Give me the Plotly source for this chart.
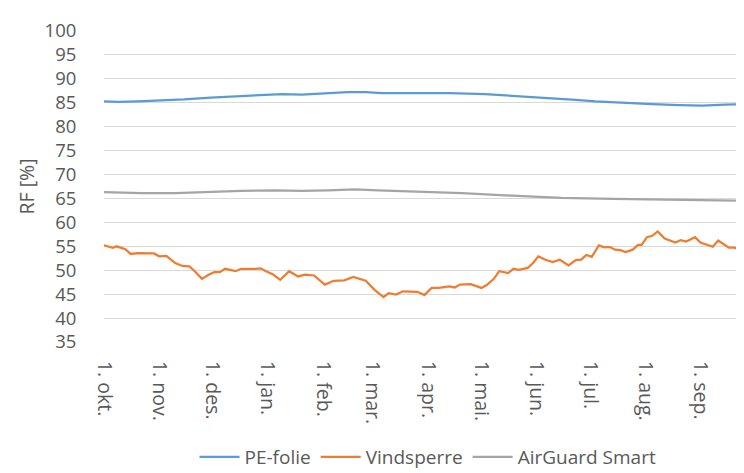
import plotly.graph_objects as go

# ---- data ----
pe_dates = ["2016-10-01","2016-10-09","2016-10-20","2016-11-04","2016-11-15","2016-11-30",
            "2016-12-15","2016-12-27","2017-01-09","2017-01-20","2017-02-02","2017-02-15",
            "2017-02-25","2017-03-06","2017-03-16","2017-04-01","2017-04-13","2017-05-03",
            "2017-05-22","2017-06-10","2017-06-23","2017-07-04","2017-07-17","2017-08-05",
            "2017-08-20","2017-09-02","2017-09-15","2017-09-30"]
pe_values = [85.3,85.2,85.3,85.5,85.7,86.1,86.4,86.6,86.8,86.7,87.0,87.2,87.2,87.0,87.0,87.0,
             87.0,86.8,86.4,86.0,85.6,85.3,85.0,84.7,84.5,84.4,84.6,84.7]

vind_dates = ["2016-10-01","2016-10-06","2016-10-08","2016-10-13","2016-10-16","2016-10-20",
              "2016-10-29","2016-11-01","2016-11-05","2016-11-10","2016-11-14","2016-11-18",
              "2016-11-21","2016-11-25","2016-11-29","2016-12-02","2016-12-05","2016-12-08",
              "2016-12-14","2016-12-17","2016-12-25","2016-12-28","2016-12-31","2017-01-04",
              "2017-01-08","2017-01-13","2017-01-18","2017-01-22","2017-01-27","2017-01-31",
              "2017-02-02","2017-02-07","2017-02-13","2017-02-18","2017-02-21","2017-02-25",
              "2017-03-02","2017-03-07","2017-03-10","2017-03-14","2017-03-18","2017-03-23",
              "2017-03-26","2017-03-30","2017-04-03","2017-04-07","2017-04-13","2017-04-16",
              "2017-04-19","2017-04-25","2017-05-01","2017-05-04","2017-05-08","2017-05-11",
              "2017-05-16","2017-05-19","2017-05-22","2017-05-27","2017-05-30","2017-06-02",
              "2017-06-06","2017-06-10","2017-06-14","2017-06-19","2017-06-23","2017-06-26",
              "2017-06-29","2017-07-02","2017-07-06","2017-07-09","2017-07-12","2017-07-15",
              "2017-07-18","2017-07-21","2017-07-25","2017-07-28","2017-07-30","2017-08-02",
              "2017-08-05","2017-08-08","2017-08-12","2017-08-18","2017-08-21","2017-08-24",
              "2017-08-29","2017-09-01","2017-09-08","2017-09-11","2017-09-17","2017-09-20",
              "2017-09-26","2017-09-30"]
vind_values = [55.2,54.7,55.0,54.4,53.4,53.6,53.5,52.9,53.0,51.5,50.9,50.8,
               49.8,48.2,49.1,49.6,49.6,50.3,49.8,50.3,50.3,50.4,49.8,49.1,
               48.0,49.8,48.7,49.1,48.9,47.7,47.0,47.8,47.9,48.6,48.2,47.8,
               45.9,44.4,45.2,44.9,45.6,45.5,45.5,44.8,46.3,46.3,46.6,46.4,
               47.0,47.1,46.3,46.9,48.2,49.8,49.4,50.3,50.1,50.5,51.5,52.9,
               52.2,51.7,52.2,51.0,52.1,52.2,53.2,52.8,55.2,54.8,54.9,54.3,
               54.2,53.8,54.3,55.3,55.3,56.9,57.2,58.1,56.6,55.8,56.3,56.0,
               56.9,55.8,54.9,56.2,54.7,54.7,54.3,54.0]

air_dates = ["2016-10-01","2016-10-22","2016-11-10","2016-11-29","2016-12-17","2017-01-05",
             "2017-01-20","2017-02-04","2017-02-19","2017-03-04","2017-03-23","2017-04-20",
             "2017-05-18","2017-06-15","2017-07-14","2017-08-15","2017-09-08","2017-09-30"]
air_values = [66.3,66.1,66.1,66.4,66.6,66.7,66.6,66.7,66.9,66.7,66.5,66.1,
              65.6,65.1,64.9,64.7,64.6,64.5]

tick_dates = ["2016-10-01","2016-11-01","2016-12-01","2017-01-01","2017-02-01","2017-03-01",
              "2017-04-01","2017-05-01","2017-06-01","2017-07-01","2017-08-01","2017-09-01"]
tick_labels = ["1. okt.","1. nov.","1. des.","1. jan.","1. feb.","1. mar.",
               "1. apr.","1. mai.","1. jun.","1. jul.","1. aug.","1. sep."]

FONT = "Open Sans"
TXT = "#595959"

fig = go.Figure()
fig.add_trace(go.Scatter(x=pe_dates, y=pe_values, mode="lines", name="PE-folie",
                         line=dict(color="#5B9BD5", width=2.25)))
fig.add_trace(go.Scatter(x=vind_dates, y=vind_values, mode="lines", name="Vindsperre",
                         line=dict(color="#ED7D31", width=2.25)))
fig.add_trace(go.Scatter(x=air_dates, y=air_values, mode="lines", name="AirGuard Smart",
                         line=dict(color="#A5A5A5", width=2.25)))

fig.update_layout(
    width=744, height=473,
    margin=dict(l=96, r=0, t=23, b=139),
    paper_bgcolor="white", plot_bgcolor="white",
    font=dict(family=FONT, size=19, color=TXT),
    hovermode=False,
    showlegend=True,
    legend=dict(orientation="h", x=0.5, xanchor="center", y=-0.37, yanchor="middle",
                font=dict(family=FONT, size=19, color=TXT), itemwidth=40,
                tracegroupgap=0),
)
fig.update_xaxes(
    type="date", range=["2016-10-01", "2017-09-30"],
    tickvals=tick_dates, ticktext=tick_labels, tickangle=90,
    showgrid=False, zeroline=False, showline=False,
    ticks="outside", ticklen=14, tickcolor="rgba(0,0,0,0)",
    tickfont=dict(family=FONT, size=19.5, color=TXT),
)
fig.update_yaxes(
    range=[35, 100], dtick=5, tick0=35,
    showgrid=True, gridcolor="#D9D9D9", gridwidth=1.3,
    zeroline=False, showline=False,
    ticks="outside", ticklen=23, tickcolor="rgba(0,0,0,0)",
    tickfont=dict(family=FONT, size=18.5, color=TXT),
    title=dict(text="RF [%]", font=dict(family=FONT, size=19.5, color=TXT), standoff=4),
)

fig.write_html("out.html")
